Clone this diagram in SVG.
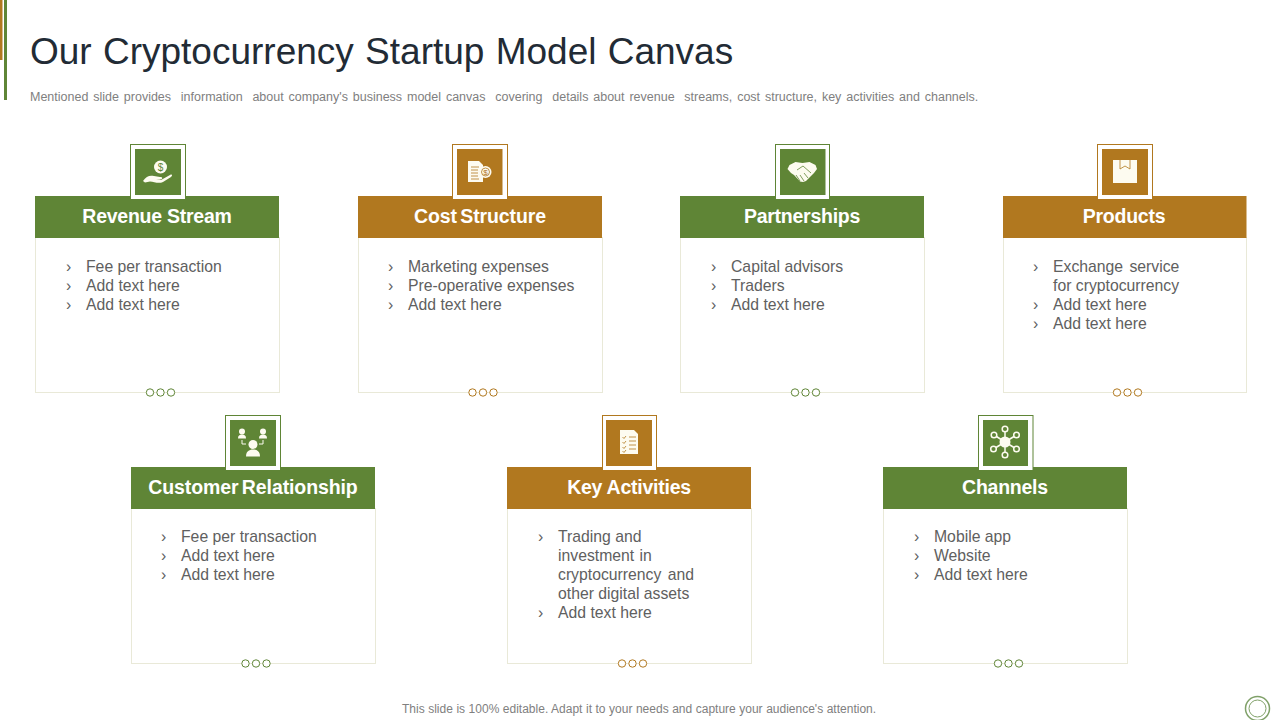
<svg xmlns="http://www.w3.org/2000/svg" width="1280" height="720" viewBox="0 0 1280 720">
<style>
text{font-family:"Liberation Sans",Arial,sans-serif}
.title{font-size:37px;fill:#222b35;word-spacing:1px}
.sub{font-size:12.500px;fill:#808080;word-spacing:1.400px;white-space:pre}
.foot{font-size:12px;fill:#808080;word-spacing:.2px}
.body{fill:#fff;stroke:#e9e9d8;stroke-width:1}
.frame{fill:#fff;stroke-width:1}
.g .frame{stroke:#5f8536}.o .frame{stroke:#b1781f}
.g .fill{fill:#5f8536}.o .fill{fill:#b1781f}
.h{font-size:19.500px;font-weight:bold;fill:#fff;text-anchor:middle;letter-spacing:-.25px}
.tight{word-spacing:-2px;letter-spacing:-.1px}
.t{font-size:15.750px;fill:#606060}
.dot{fill:#fff;stroke-width:1}
.g .dot{stroke:#5f8536}.o .dot{stroke:#b1781f}
.ic{fill:#fdfbf0}
.icl{fill:none;stroke:#fdfbf0;stroke-width:1.500}
.icd{fill:none;stroke:#5f8536;stroke-width:.8}
.ico{fill:none;stroke:#b1781f;stroke-width:.8}
</style>
<rect x="0" y="0" width="2.500" height="60" fill="#b1781f"/>
<rect x="4" y="0" width="3" height="100" fill="#5f8536"/>
<text class="title" x="30" y="63.500">Our Cryptocurrency Startup Model Canvas</text>
<text class="sub" x="30" y="101">Mentioned slide provides  information  about company's business model canvas  covering  details about revenue  streams, cost structure, key activities and channels.</text>

<g id="revenue-stream" class="g">
<rect class="body" x="35.500" y="237.500" width="244" height="155"/>
<rect class="fill" x="35" y="196" width="244" height="42"/>
<rect class="frame" x="130.500" y="144.500" width="55" height="55"/>
<rect class="fill" x="135" y="149" width="46" height="46"/>
<circle class="ic" cx="160.500" cy="167" r="6.500"/>
<text x="160.500" y="170.500" font-size="10" text-anchor="middle" fill="#5f8536">$</text>
<path class="ic" d="M143 181c3-5 7-6 11-5l6 1c3 0 3 2 0 2.500h-4l5 .5 9-5c2-1 3 0 1 2l-8 5c-4 2-9 0-13-.5l-5 1z"/>
<text class="h" x="157" y="222.500">Revenue Stream</text>
<text class="t" x="66" y="272">›</text><text class="t" x="86" y="272">Fee per transaction</text>
<text class="t" x="66" y="291">›</text><text class="t" x="86" y="291">Add text here</text>
<text class="t" x="66" y="310">›</text><text class="t" x="86" y="310">Add text here</text>
<circle class="dot" cx="150" cy="392.500" r="3.700"/><circle class="dot" cx="160.500" cy="392.500" r="3.700"/><circle class="dot" cx="171" cy="392.500" r="3.700"/>
</g>

<g id="cost-structure" class="o">
<rect class="body" x="358.500" y="237.500" width="244" height="155"/>
<rect class="fill" x="358" y="196" width="244" height="42"/>
<rect class="frame" x="452.500" y="144.500" width="55" height="55"/>
<rect class="fill" x="457" y="149" width="45.500" height="46"/>
<path class="ic" d="M468 161h11l4 4v17h-15z"/>
<path class="ico" d="M471 167h8M471 170h7M471 173h7M471 176h7M471 179h8"/>
<circle class="ic" cx="485.500" cy="172" r="6"/><circle class="ico" cx="485.500" cy="172" r="4"/>
<text x="485.500" y="175" font-size="8" text-anchor="middle" fill="#b1781f">$</text>
<text class="h tight" x="480" y="222.500">Cost Structure</text>
<text class="t" x="388" y="272">›</text><text class="t" x="408" y="272">Marketing expenses</text>
<text class="t" x="388" y="291">›</text><text class="t" x="408" y="291">Pre-operative expenses</text>
<text class="t" x="388" y="310">›</text><text class="t" x="408" y="310">Add text here</text>
<circle class="dot" cx="472.500" cy="392.500" r="3.700"/><circle class="dot" cx="483" cy="392.500" r="3.700"/><circle class="dot" cx="493.500" cy="392.500" r="3.700"/>
</g>

<g id="partnerships" class="g">
<rect class="body" x="680.500" y="237.500" width="244" height="155"/>
<rect class="fill" x="680" y="196" width="244" height="42"/>
<rect class="frame" x="775.500" y="144.500" width="54" height="55"/>
<rect class="fill" x="780" y="149" width="45.500" height="46"/>
<path class="ic" d="M787.500 169l2-4 6-3 7 1 7-1 6 3 1.500 4-3 4-8 8-3 1-3-.5-6-6.500-3-2z"/>
<path class="icd" d="M797 170l6-4 8 7M796 180l-4-5M800 181l-4-6M804 181l-4-6M808 178l-4-5"/>
<text class="h" x="802" y="222.500">Partnerships</text>
<text class="t" x="711" y="272">›</text><text class="t" x="731" y="272">Capital advisors</text>
<text class="t" x="711" y="291">›</text><text class="t" x="731" y="291">Traders</text>
<text class="t" x="711" y="310">›</text><text class="t" x="731" y="310">Add text here</text>
<circle class="dot" cx="795" cy="392.500" r="3.700"/><circle class="dot" cx="805.500" cy="392.500" r="3.700"/><circle class="dot" cx="816" cy="392.500" r="3.700"/>
</g>

<g id="products" class="o">
<rect class="body" x="1003.500" y="237.500" width="243" height="155"/>
<rect class="fill" x="1003" y="196" width="243.500" height="42"/>
<rect class="frame" x="1097.500" y="144.500" width="55" height="55"/>
<rect class="fill" x="1102" y="149" width="46" height="46"/>
<rect class="ic" x="1113" y="160" width="24" height="23"/>
<path class="ico" d="M1120 160v9l5-3 5 3v-9"/>
<text class="h" x="1124" y="222.500">Products</text>
<text class="t" x="1033" y="272">›</text><text class="t" x="1053" y="272" style="word-spacing:2px">Exchange service</text>
<text class="t" x="1053" y="291">for cryptocurrency</text>
<text class="t" x="1033" y="310">›</text><text class="t" x="1053" y="310">Add text here</text>
<text class="t" x="1033" y="329">›</text><text class="t" x="1053" y="329">Add text here</text>
<circle class="dot" cx="1117" cy="392.500" r="3.700"/><circle class="dot" cx="1127.500" cy="392.500" r="3.700"/><circle class="dot" cx="1138" cy="392.500" r="3.700"/>
</g>

<g id="customer-relationship" class="g">
<rect class="body" x="131.500" y="508.500" width="244" height="155"/>
<rect class="fill" x="131" y="467" width="244" height="42"/>
<rect class="frame" x="225.500" y="415.500" width="55" height="55"/>
<rect class="fill" x="230" y="420" width="46" height="46"/>
<circle class="ic" cx="242" cy="431.500" r="3"/><path class="ic" d="M238 438.500c0-3 1.500-4 4-4s4 1 4 4z"/>
<circle class="ic" cx="263" cy="431.500" r="3"/><path class="ic" d="M259 438.500c0-3 1.500-4 4-4s4 1 4 4z"/>
<circle class="ic" cx="253" cy="444.500" r="4.500"/><path class="ic" d="M246 456.500c0-5 3-7 7-7s7 2 7 7z"/>
<path class="icl" d="M242 440v4h4M263 440v4h-4" style="stroke-width:1"/>
<text class="h tight" x="253" y="493.500">Customer Relationship</text>
<text class="t" x="161" y="542">›</text><text class="t" x="181" y="542">Fee per transaction</text>
<text class="t" x="161" y="561">›</text><text class="t" x="181" y="561">Add text here</text>
<text class="t" x="161" y="580">›</text><text class="t" x="181" y="580">Add text here</text>
<circle class="dot" cx="245.500" cy="663.500" r="3.700"/><circle class="dot" cx="256" cy="663.500" r="3.700"/><circle class="dot" cx="266.500" cy="663.500" r="3.700"/>
</g>

<g id="key-activities" class="o">
<rect class="body" x="507.500" y="508.500" width="244" height="155"/>
<rect class="fill" x="507" y="467" width="244" height="42"/>
<rect class="frame" x="602.500" y="415.500" width="54" height="55"/>
<rect class="fill" x="606" y="420" width="46" height="46"/>
<path class="ic" d="M620 430h14l4 4v20h-18z"/>
<path class="ico" d="M622.500 437l1.500 1.500 2-2.500M622.500 442l1.500 1.500 2-2.500M622.500 447l1.500 1.500 2-2.500M622.500 451l1.500 1.500 2-2.500M629 437h7M629 441h7M629 445h7M629 449h7"/>
<text class="h" x="629" y="493.500">Key Activities</text>
<text class="t" x="538" y="542">›</text><text class="t" x="558" y="542">Trading and</text>
<text class="t" x="558" y="561" style="word-spacing:1px">investment in</text>
<text class="t" x="558" y="580" style="word-spacing:2px">cryptocurrency and</text>
<text class="t" x="558" y="599">other digital assets</text>
<text class="t" x="538" y="618">›</text><text class="t" x="558" y="618">Add text here</text>
<circle class="dot" cx="622" cy="663.500" r="3.700"/><circle class="dot" cx="632.500" cy="663.500" r="3.700"/><circle class="dot" cx="643" cy="663.500" r="3.700"/>
</g>

<g id="channels" class="g">
<rect class="body" x="883.500" y="508.500" width="244" height="155"/>
<rect class="fill" x="883" y="467" width="244" height="42"/>
<rect class="frame" x="978.500" y="415.500" width="54.500" height="55"/>
<rect class="fill" x="983" y="420" width="45" height="46"/>
<path class="icl" d="M1005 442V431.500M1005 442V452M1005 442L996.500 436.500M1005 442L1014 436.500M1005 442L996 447.500M1005 442L1014 447.500"/>
<circle class="ic" cx="1005" cy="442" r="5.500"/>
<circle class="icl" cx="1005" cy="429" r="2.800"/><circle class="icl" cx="1005" cy="455" r="2.800"/>
<circle class="icl" cx="994" cy="435" r="2.800"/><circle class="icl" cx="1016.500" cy="435" r="2.800"/>
<circle class="icl" cx="993.500" cy="449" r="2.800"/><circle class="icl" cx="1016.500" cy="449" r="2.800"/>
<text class="h" x="1005" y="493.500">Channels</text>
<text class="t" x="914" y="542">›</text><text class="t" x="934" y="542">Mobile app</text>
<text class="t" x="914" y="561">›</text><text class="t" x="934" y="561">Website</text>
<text class="t" x="914" y="580">›</text><text class="t" x="934" y="580">Add text here</text>
<circle class="dot" cx="998" cy="663.500" r="3.700"/><circle class="dot" cx="1008.500" cy="663.500" r="3.700"/><circle class="dot" cx="1019" cy="663.500" r="3.700"/>
</g>

<text class="foot" x="402" y="713">This slide is 100% editable. Adapt it to your needs and capture your audience's attention.</text>
<g id="logo" fill="none" stroke="#7fa068">
<circle cx="1257.500" cy="708.500" r="12" stroke-width="1.500"/>
<circle cx="1257.500" cy="708.500" r="8.500" stroke-width="1"/>
</g>
</svg>
